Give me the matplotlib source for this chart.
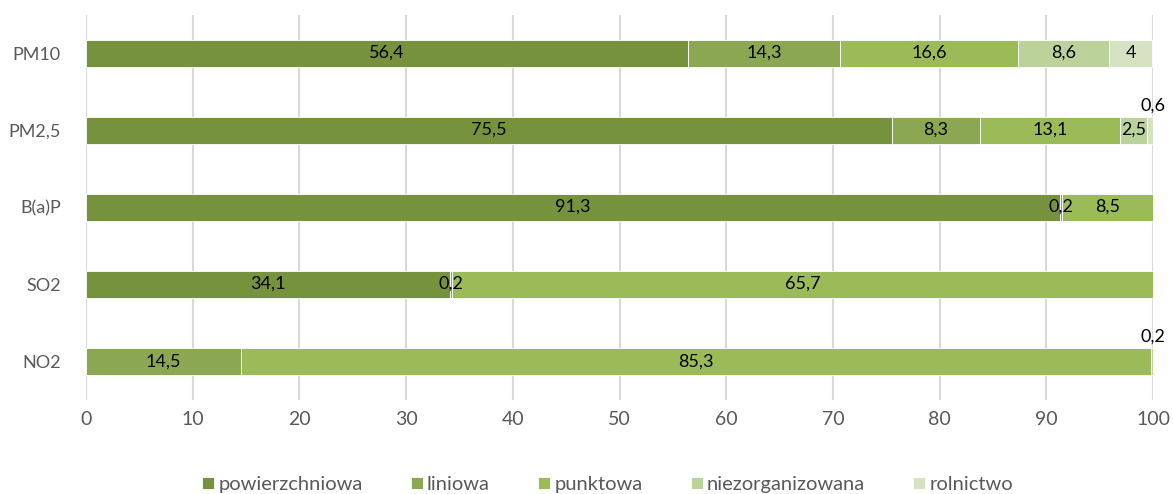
import numpy as np
import matplotlib.pyplot as plt

plt.rcParams['font.family'] = ['Lato', 'DejaVu Sans']

zanieczyszczenia = ['PM10', 'PM2,5', 'B(a)P', 'SO2', 'NO2']
zrodla = ['powierzchniowa', 'liniowa', 'punktowa', 'niezorganizowana', 'rolnictwo']
kolory = ['#76923C', '#8BA752', '#9BBB59', '#BBD29A', '#D5E3C3']

powierzchniowa = [56.4, 75.5, 91.3, 34.1, 0]
liniowa = [14.3, 8.3, 0.2, 0.2, 14.5]
punktowa = [16.6, 13.1, 8.5, 65.7, 85.3]
niezorganizowana = [8.6, 2.5, 0, 0, 0.2]
rolnictwo = [4, 0.6, 0, 0, 0]
dane = [powierzchniowa, liniowa, punktowa, niezorganizowana, rolnictwo]

fig = plt.figure(figsize=(11.73, 4.94), dpi=100)
ax = fig.add_axes([0.0733, 0.191, 0.9097, 0.7796])

y = np.arange(len(zanieczyszczenia))
lewo = np.zeros(len(zanieczyszczenia))
for nazwa, wart, kol in zip(zrodla, dane, kolory):
    wart = np.array(wart, dtype=float)
    ax.barh(y, wart, left=lewo, height=0.35, color=kol, edgecolor='white',
            linewidth=0.6, label=nazwa, zorder=2)
    for i, v in enumerate(wart):
        if v == 0:
            continue
        tekst = ('%g' % v).replace('.', ',')
        if v < 1 and lewo[i] + v > 99:
            # male udzialy na koncu paska - etykieta nad paskiem
            ax.text(lewo[i] + v, y[i] - 0.21, tekst, ha='center', va='bottom',
                    fontsize=13, color='black')
        else:
            ax.text(lewo[i] + v / 2, y[i], tekst, ha='center', va='center',
                    fontsize=13, color='black', zorder=3)
    lewo += wart

ax.set_xlim(0, 100)
ax.set_ylim(len(zanieczyszczenia) - 0.5, -0.5)
ax.set_xticks(np.arange(0, 101, 10))
ax.set_yticks(y)
ax.set_yticklabels(zanieczyszczenia)
ax.tick_params(axis='x', labelsize=14, colors='#595959', length=0, pad=8)
ax.tick_params(axis='y', labelsize=13, colors='#595959', length=0, pad=18)
ax.xaxis.grid(True, color='#D9D9D9', linewidth=1.5, zorder=0)
ax.set_axisbelow(True)
for s in ax.spines.values():
    s.set_visible(False)

fig.legend(loc='lower center', bbox_to_anchor=(0.518, -0.035), ncol=5, frameon=False,
           fontsize=14.5, handlelength=0.6, handleheight=0.6, handletextpad=0.2,
           columnspacing=2.4, labelcolor='#595959')

plt.savefig('out.png', dpi=100)
